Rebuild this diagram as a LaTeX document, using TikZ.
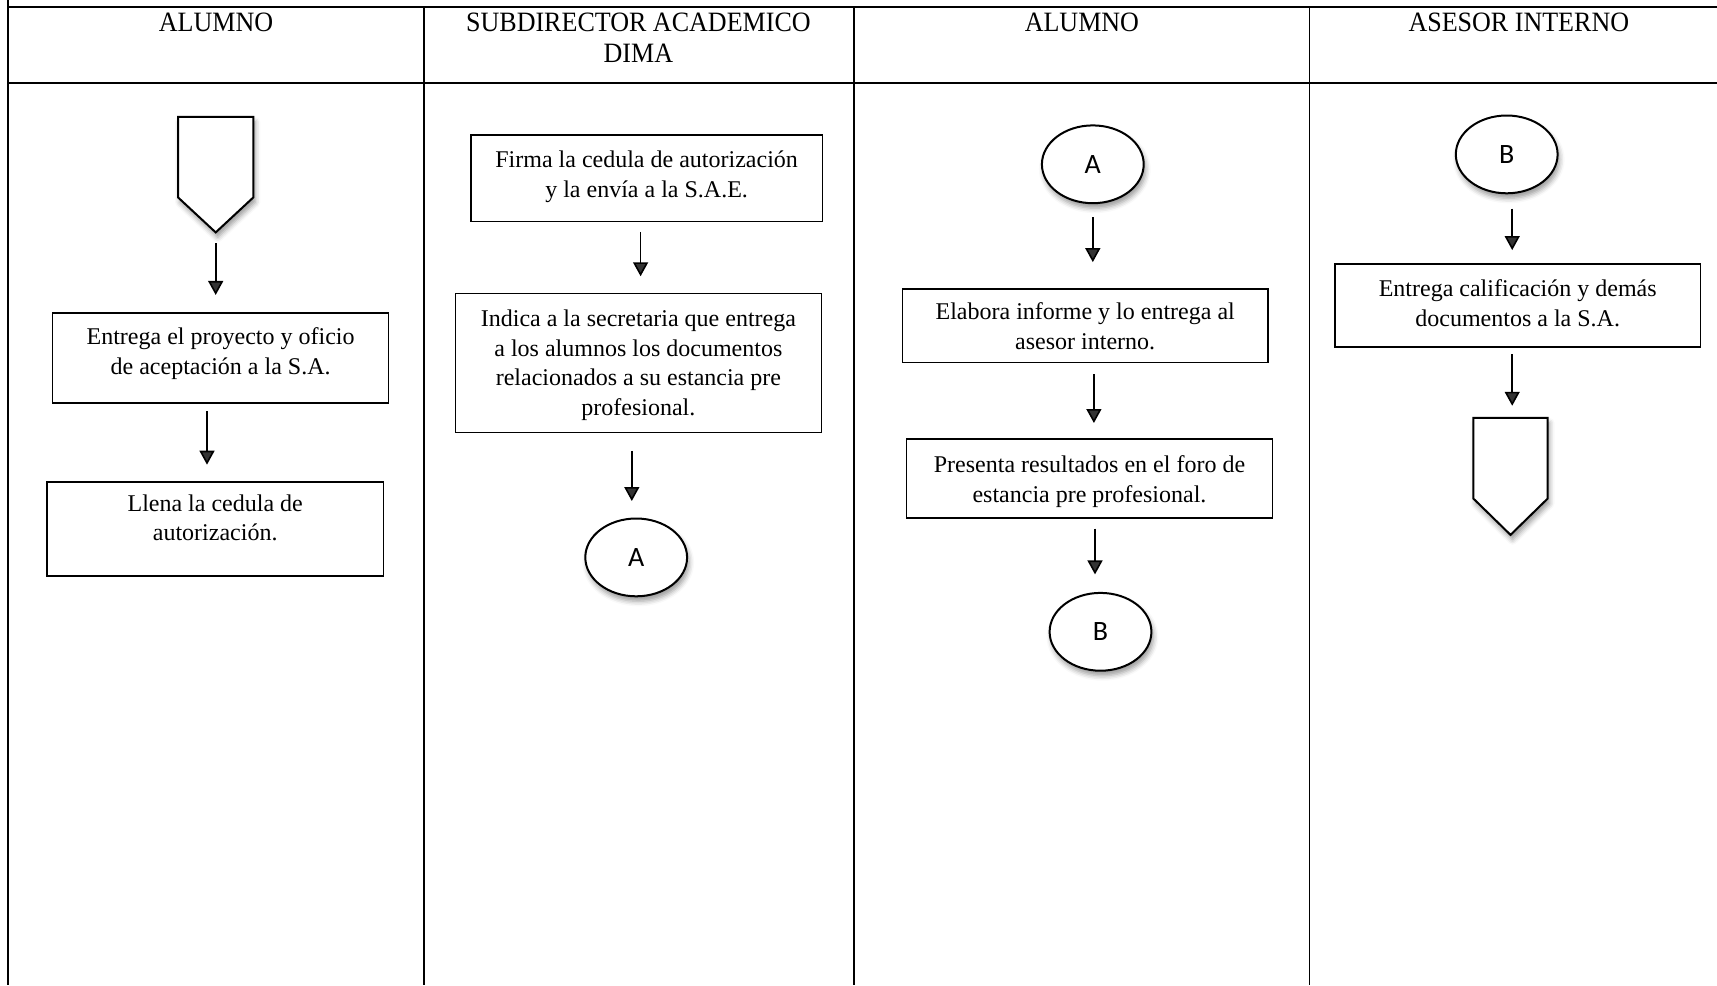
\documentclass[tikz,border=0pt]{standalone}
\usepackage{fontspec}
\setmainfont{Liberation Serif}
\newfontfamily\cabeza[FakeStretch=0.93]{Liberation Serif}
\newfontfamily\letra{Carlito}
\usetikzlibrary{arrows.meta,shapes.geometric,shadows.blur}

% texto centrado de una caja, subido o bajado un poco
\newcommand\texto[2]{\raisebox{#1}[\height][\depth]{\begin{tabular}{@{}c@{}}#2\end{tabular}}}

\begin{document}
\begin{tikzpicture}[x=0.5pt,y=-0.5pt,
    titulo/.style = {anchor=north, align=center, inner sep=0pt, font=\cabeza\fontsize{14}{15.3}\selectfont},
    caja/.style = {draw, line width=0.75pt, inner sep=0pt, font=\fontsize{12}{14.8}\selectfont},
    con/.style = {draw, ellipse, line width=1pt, fill=white, minimum width=50.9pt, minimum height=38.9pt,
        font=\letra\fontsize{14}{16}\selectfont,
        blur shadow={shadow xshift=1pt, shadow yshift=-2.5pt, shadow opacity=40, shadow blur radius=2.5pt}},
    pag/.style = {line width=1pt, fill=white,
        blur shadow={shadow xshift=1pt, shadow yshift=-2.5pt, shadow opacity=40, shadow blur radius=2.5pt}},
    flecha/.style = {-{Triangle[width=7.5pt,length=7pt]}, line width=0.8pt}]
    \useasboundingbox (0,0) rectangle (1717,985);

    % Tabla
    \draw[line width=1pt] (8.3,0) -- (8.3,985);
    \draw[line width=1.2pt] (8.3,6.7) -- (1717,6.7);
    \draw[line width=1.2pt] (8.3,83) -- (1717,83);
    \foreach \x in {423.8,854.1,1309.6}
        \draw[line width=0.8pt] (\x,6.7) -- (\x,985);

    \node[titulo] (c1) at (216,13) {ALUMNO};
    \node[titulo] (c2) at (638.4,13) {SUBDIRECTOR ACADEMICO\\DIMA};
    \node[titulo] (c3) at (1081.9,13) {ALUMNO};
    \node[titulo] (c4) at (1518.8,13) {ASESOR INTERNO};

    % Alumno
    \node[minimum width=37.25pt, minimum height=39.9pt, inner sep=0pt] (1) at (215.7,157.1) {};
    \draw[pag] (1.north west) -- (1.north east) -- (1.south east) -- ([yshift=-17.5pt]1.south) -- (1.south west) -- cycle;
    \node[caja, minimum width=168pt, minimum height=44.9pt] (2) at (220.6,358.1)
        {\texto{2.2pt}{Entrega el proyecto y oficio\\de aceptación a la S.A.}};
    \node[caja, minimum width=168.1pt, minimum height=47.1pt] (3) at (215.2,528.9)
        {\texto{4.4pt}{Llena la cedula de\\autorización.}};

    % Subdirector academico
    \node[caja, minimum width=175.7pt, minimum height=43.25pt] (4) at (646.6,178)
        {\texto{0.8pt}{Firma la cedula de autorización\\y la envía a la S.A.E.}};
    \node[caja, minimum width=182.9pt, minimum height=69.5pt] (5) at (638.4,363)
        {\texto{-1.1pt}{Indica a la secretaria que entrega\\a los alumnos los documentos\\relacionados a su estancia pre\\profesional.}};
    \node[con] (6) at (636.2,557.4) {A};

    % Alumno
    \node[con] (7) at (1092.8,164.3) {A};
    \node[caja, minimum width=182.85pt, minimum height=36.65pt] (8) at (1085.2,325.8)
        {\texto{-1.4pt}{Elabora informe y lo entrega al\\asesor interno.}};
    \node[caja, minimum width=182.85pt, minimum height=39.45pt] (9) at (1089.5,478.5)
        {\texto{-1.4pt}{Presenta resultados en el foro de\\estancia pre profesional.}};
    \node[con] (10) at (1100.5,631.8) {B};

    % Asesor interno
    \node[con] (11) at (1506.7,154.4) {B};
    \node[caja, minimum width=182.85pt, minimum height=41.6pt] (12) at (1517.7,305.5)
        {\texto{0pt}{Entrega calificación y demás\\documentos a la S.A.}};
    \node[minimum width=36.65pt, minimum height=40pt, inner sep=0pt] (13) at (1510.5,458.25) {};
    \draw[pag] (13.north west) -- (13.north east) -- (13.south east) -- ([yshift=-18.1pt]13.south) -- (13.south west) -- cycle;

    % Conexiones
    \draw[flecha, shorten <=23pt, shorten >=8.75pt] (1.south) -- (1.south |- 2.north);
    \draw[flecha, shorten <=3.8pt, shorten >=8.2pt] ([xshift=-6.8pt]2.south) -- ([xshift=-6.8pt]2.south |- 3.north);
    \draw[flecha, shorten <=4.9pt, shorten >=8.25pt] ([xshift=-3pt]4.south) -- ([xshift=-3pt]4.south |- 5.north);
    \draw[flecha, shorten <=8.75pt, shorten >=8.25pt] ([xshift=-3.3pt]5.south) -- ([xshift=-3.3pt]5.south |- 6.north);
    \draw[flecha, shorten <=6.55pt, shorten >=13.15pt] (7.south) -- (7.south |- 8.north);
    \draw[flecha, shorten <=5.5pt, shorten >=7.65pt] ([xshift=4.35pt]8.south) -- ([xshift=4.35pt]8.south |- 9.north);
    \draw[flecha, shorten <=4.9pt, shorten >=8.75pt] ([xshift=2.75pt]9.south) -- ([xshift=2.75pt]9.south |- 10.north);
    \draw[flecha, shorten <=7.1pt, shorten >=6.55pt] ([xshift=2.75pt]11.south) -- ([xshift=2.75pt]11.south |- 12.north);
    \draw[flecha, shorten <=3.3pt, shorten >=6.05pt] ([xshift=-2.75pt]12.south) -- ([xshift=-2.75pt]12.south |- 13.north);
\end{tikzpicture}
\end{document}
